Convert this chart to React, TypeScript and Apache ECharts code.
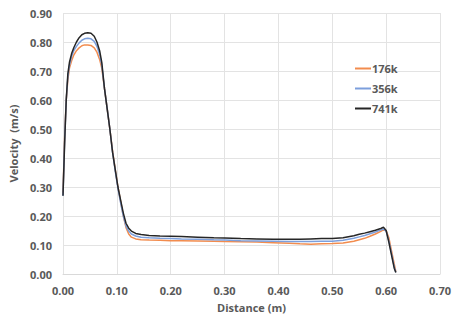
import React, { useEffect, useRef } from "react";
import * as echarts from "echarts";

const distance = [0, 0.003, 0.006, 0.009, 0.012, 0.016, 0.02, 0.025, 0.03, 0.035, 0.04, 0.046, 0.052, 0.058, 0.063, 0.068, 0.072, 0.077, 0.082, 0.087, 0.092, 0.097, 0.102, 0.107, 0.112, 0.117, 0.122, 0.127, 0.135, 0.145, 0.16, 0.18, 0.2, 0.22, 0.25, 0.28, 0.3, 0.33, 0.36, 0.39, 0.42, 0.44, 0.46, 0.48, 0.5, 0.52, 0.54, 0.55, 0.56, 0.57, 0.58, 0.59, 0.595, 0.6, 0.605, 0.61, 0.615, 0.618];

const v176k = [0.28, 0.47, 0.6, 0.67, 0.71, 0.735, 0.755, 0.77, 0.78, 0.787, 0.79, 0.79, 0.788, 0.78, 0.765, 0.74, 0.71, 0.64, 0.57, 0.5, 0.425, 0.36, 0.3, 0.25, 0.2, 0.16, 0.138, 0.127, 0.121, 0.118, 0.117, 0.116, 0.115, 0.115, 0.114, 0.113, 0.112, 0.111, 0.11, 0.108, 0.106, 0.104, 0.103, 0.104, 0.105, 0.107, 0.113, 0.118, 0.123, 0.13, 0.138, 0.147, 0.152, 0.15, 0.125, 0.08, 0.035, 0.008];

const v356k = [0.27, 0.46, 0.6, 0.68, 0.72, 0.75, 0.77, 0.785, 0.797, 0.806, 0.811, 0.813, 0.811, 0.802, 0.785, 0.757, 0.72, 0.64, 0.57, 0.5, 0.42, 0.355, 0.295, 0.245, 0.2, 0.165, 0.148, 0.138, 0.131, 0.127, 0.125, 0.123, 0.122, 0.121, 0.12, 0.118, 0.117, 0.115, 0.114, 0.113, 0.112, 0.112, 0.112, 0.113, 0.113, 0.116, 0.123, 0.128, 0.133, 0.139, 0.145, 0.152, 0.155, 0.148, 0.115, 0.07, 0.025, 0.006];

const v741k = [0.27, 0.45, 0.6, 0.69, 0.73, 0.76, 0.78, 0.8, 0.815, 0.825, 0.83, 0.832, 0.83, 0.82, 0.8, 0.77, 0.73, 0.64, 0.57, 0.5, 0.42, 0.36, 0.3, 0.255, 0.21, 0.175, 0.158, 0.148, 0.14, 0.136, 0.133, 0.131, 0.13, 0.129, 0.127, 0.125, 0.124, 0.122, 0.121, 0.12, 0.12, 0.12, 0.121, 0.122, 0.122, 0.125, 0.132, 0.137, 0.141, 0.146, 0.151, 0.157, 0.161, 0.15, 0.11, 0.065, 0.02, 0.005];

const seriesNames = ["176k", "356k", "741k"];
const seriesColors = ["#F28C4E", "#7C9FDC", "#262626"];

const FONT = "'Open Sans', sans-serif";
const GRAY = "#595959";

export default function App() {
  const ref = useRef<HTMLDivElement>(null);
  useEffect(() => {
    if (!ref.current) return;
    const chart = echarts.init(ref.current, undefined, { renderer: "svg" });
    const values = [v176k, v356k, v741k];
    chart.setOption({
      animation: false,
      backgroundColor: "#ffffff",
      grid: { left: 63, right: 17, top: 13, bottom: 50 },
      legend: {
        orient: "vertical",
        left: 350,
        top: 58,
        itemWidth: 16,
        itemHeight: 10,
        itemGap: 9,
        icon: "path://M0,4 L16,4 L16,6 L0,6 Z",
        textStyle: { fontFamily: FONT, fontSize: 11, fontWeight: "bold", color: GRAY, padding: [0, 0, 0, -4] },
        data: seriesNames,
      },
      xAxis: {
        type: "value",
        min: 0,
        max: 0.7,
        interval: 0.1,
        name: "Distance (m)",
        nameLocation: "middle",
        nameGap: 28,
        nameTextStyle: { fontFamily: FONT, fontSize: 11, fontWeight: "bold", color: GRAY },
        axisLine: { show: true, lineStyle: { color: "#d9d9d9" } },
        axisTick: { show: false },
        axisLabel: { fontFamily: FONT, fontSize: 11, fontWeight: "bold", color: GRAY, margin: 11, formatter: (v: number) => v.toFixed(2) },
        splitLine: { show: true, lineStyle: { color: "#e3e3e3" } },
      },
      yAxis: {
        type: "value",
        min: 0,
        max: 0.9,
        interval: 0.1,
        name: "Velocity  (m/s)",
        nameLocation: "middle",
        nameGap: 43,
        nameTextStyle: { fontFamily: FONT, fontSize: 11, fontWeight: "bold", color: GRAY },
        axisLine: { show: false },
        axisTick: { show: false },
        axisLabel: { fontFamily: FONT, fontSize: 11, fontWeight: "bold", color: GRAY, margin: 11, formatter: (v: number) => v.toFixed(2) },
        splitLine: { show: true, lineStyle: { color: "#e3e3e3" } },
      },
      series: seriesNames.map((name, i) => ({
        name,
        type: "line",
        showSymbol: false,
        smooth: false,
        color: seriesColors[i],
        lineStyle: { width: 1.5, color: seriesColors[i] },
        data: distance.map((d, j) => [d, values[i][j]]),
      })),
    });
    return () => chart.dispose();
  }, []);
  return <div ref={ref} style={{ width: 457, height: 324, position: "absolute", left: 0, top: 0 }} />;
}
